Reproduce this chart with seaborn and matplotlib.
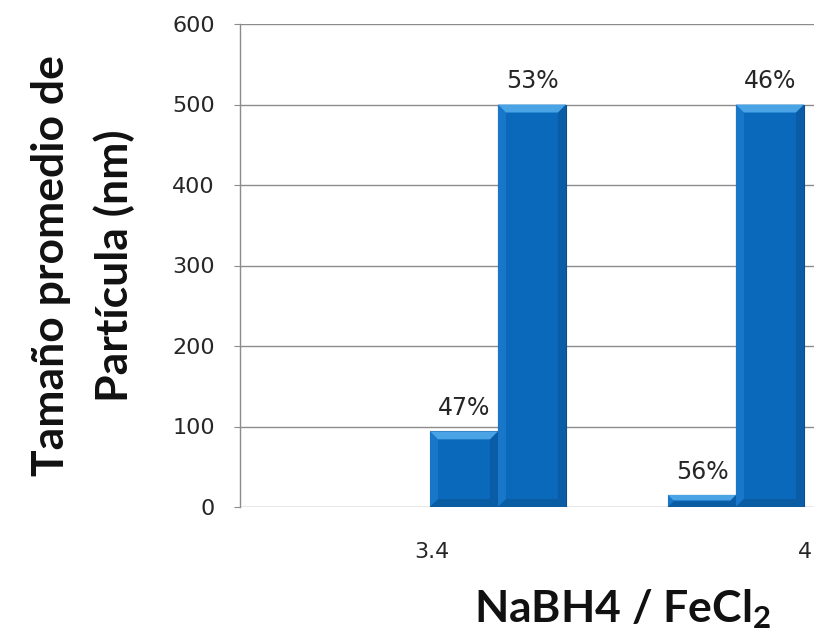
import matplotlib
matplotlib.use("Agg")
import matplotlib.pyplot as plt
from matplotlib.patches import Polygon
import numpy as np
import pandas as pd
import seaborn as sns

# Data
ratios = ["3.4", "4"]
series = ["Serie 1", "Serie 2"]
size_serie1 = [94, 15]
size_serie2 = [500, 500]
pct_serie1 = ["47%", "56%"]
pct_serie2 = ["53%", "46%"]
y_ticks = [0, 100, 200, 300, 400, 500, 600]

df = pd.DataFrame({
    "ratio": ratios * 2,
    "serie": [series[0]] * len(ratios) + [series[1]] * len(ratios),
    "size": size_serie1 + size_serie2,
})

sns.set_style("white")
plt.rcParams["font.family"] = ["DejaVu Sans"]
plt.rcParams["mathtext.fontset"] = "custom"
plt.rcParams["mathtext.rm"] = "Lato:bold"
plt.rcParams["mathtext.bf"] = "Lato:bold"
plt.rcParams["mathtext.it"] = "Lato:bold"
plt.rcParams["mathtext.default"] = "regular"

W, H = 814, 632
fig = plt.figure(figsize=(W / 100, H / 100), dpi=100)
ax = fig.add_axes([240 / W, 1 - 507 / H, 574 / W, 483 / H])

blue = "#0B69BC"
sns.barplot(data=df, x="ratio", y="size", hue="serie", order=ratios,
            hue_order=series, palette=[blue, blue], width=0.571, gap=0,
            legend=False, ax=ax, saturation=1, edgecolor="#0A4E8C",
            linewidth=0.8, zorder=3)

ax.set_xlim(-1.084, 1.328)
ax.set_ylim(0, 600)
ax.set_yticks(y_ticks)

# bevelled look on each bar
px_x = 1.0 / 238.0          # data units per pixel horizontally
px_y = 600.0 / 483.0        # data units per pixel vertically
for p in list(ax.patches):
    x0, y0 = p.get_x(), p.get_y()
    w, h = p.get_width(), p.get_height()
    x1, y1 = x0 + w, y0 + h
    b = min(8, (h / px_y) / 2.2)
    bx, by = b * px_x, b * px_y
    top = Polygon([(x0, y1), (x1, y1), (x1 - bx, y1 - by), (x0 + bx, y1 - by)],
                  closed=True, facecolor="#4AA3E4", edgecolor="none", zorder=4)
    left = Polygon([(x0, y0), (x0, y1), (x0 + bx, y1 - by), (x0 + bx, y0 + by)],
                   closed=True, facecolor="#1877C8", edgecolor="none", zorder=4)
    right = Polygon([(x1, y0), (x1, y1), (x1 - bx, y1 - by), (x1 - bx, y0 + by)],
                    closed=True, facecolor="#0A5CA6", edgecolor="none", zorder=4)
    bottom = Polygon([(x0, y0), (x1, y0), (x1 - bx, y0 + by), (x0 + bx, y0 + by)],
                     closed=True, facecolor="#0A5CA3", edgecolor="none", zorder=4)
    for poly in (left, right, bottom, top):
        ax.add_patch(poly)

# percentage labels above the bars
for cont, labels in zip(ax.containers, [pct_serie1, pct_serie2]):
    ax.bar_label(cont, labels=labels, padding=8, fontsize=17, color="#262626",
                 zorder=5)

# axes styling
grid_c = "#8C8C8C"
ax.yaxis.grid(True, color=grid_c, linewidth=1.0, zorder=0)
ax.xaxis.grid(False)
ax.set_axisbelow(True)
for s in ("top", "right", "bottom"):
    ax.spines[s].set_visible(False)
ax.spines["left"].set_color(grid_c)
ax.spines["left"].set_linewidth(1.0)

ax.tick_params(axis="y", length=4, color=grid_c, pad=14, labelsize=16,
               labelcolor="#262626", left=True)
ax.set_xticks([-0.277, 1.29], labels=ratios)
ax.tick_params(axis="x", length=0, pad=25, labelsize=16, labelcolor="#262626")

ax.set_xlabel("NaBH4 / FeCl$_2$", fontsize=32, family="Lato",
              fontweight="bold", color="#111111", va="top")
ax.xaxis.set_label_coords(0.667, -0.165)
ax.set_ylabel("Tamaño promedio de\nPartícula (nm)", fontsize=32,
              family="Lato", fontweight="bold", color="#111111",
              va="center", linespacing=1.65)
ax.yaxis.set_label_coords(-0.274, 0.5)

fig.savefig("out.png", dpi=100, facecolor="white")
